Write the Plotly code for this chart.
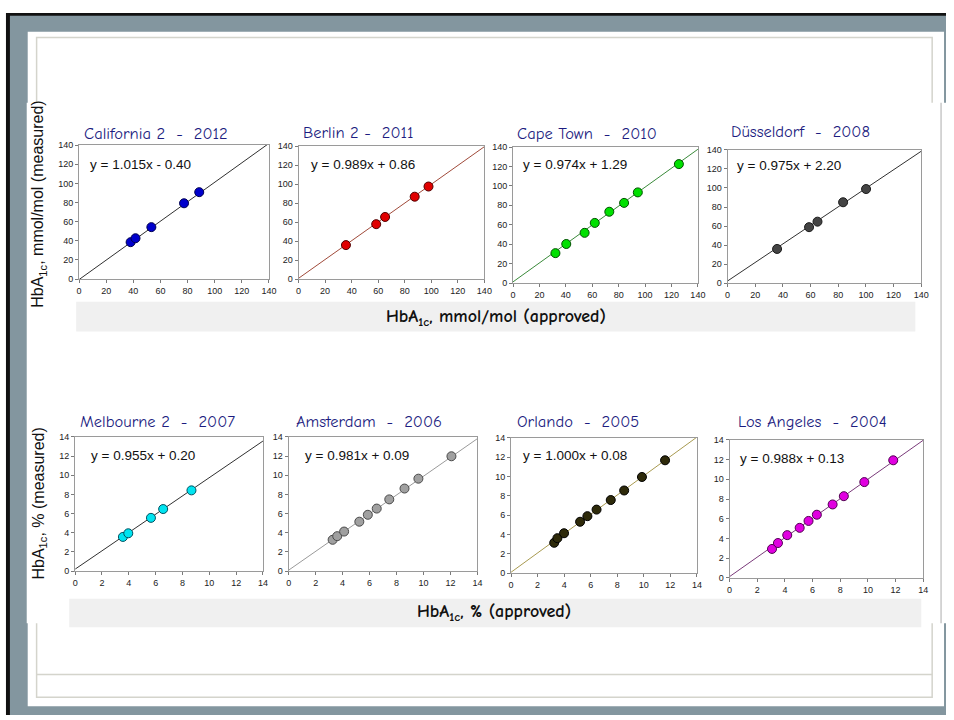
import plotly.graph_objects as go

W, H = 954, 720

# ---- data ---------------------------------------------------------------
panel_titles = [
    "California 2  -  2012", "Berlin 2 -  2011", "Cape Town  -  2010", "Düsseldorf  -  2008",
    "Melbourne 2  -  2007", "Amsterdam  -  2006", "Orlando  -  2005", "Los Angeles  -  2004",
]
slopes = [1.015, 0.989, 0.974, 0.975, 0.955, 0.981, 1.000, 0.988]
intercepts = [-0.40, 0.86, 1.29, 2.20, 0.20, 0.09, 0.08, 0.13]

approved = [
    [38.0, 41.6, 53.3, 77.4, 88.6],
    [35.7, 58.5, 65.2, 87.5, 97.9],
    [32.1, 40.3, 54.2, 61.9, 72.9, 84.1, 94.5, 125.6],
    [35.8, 58.9, 65.0, 83.5, 100.1],
    [3.56, 3.96, 5.65, 6.56, 8.67],
    [3.26, 3.60, 4.11, 5.24, 5.87, 6.53, 7.46, 8.59, 9.62, 12.07],
    [3.25, 3.49, 3.99, 5.20, 5.75, 6.44, 7.51, 8.52, 9.86, 11.60],
    [3.07, 3.50, 4.17, 5.07, 5.71, 6.31, 7.45, 8.26, 9.74, 11.83],
]
measured = [
    [38.6, 42.7, 54.3, 79.2, 90.8],
    [35.8, 57.8, 65.4, 86.7, 97.4],
    [30.8, 40.2, 51.7, 61.9, 73.4, 82.5, 93.3, 122.4],
    [35.9, 58.8, 64.6, 85.0, 98.9],
    [3.56, 3.94, 5.55, 6.47, 8.42],
    [3.26, 3.64, 4.12, 5.15, 5.87, 6.52, 7.48, 8.61, 9.64, 11.98],
    [3.13, 3.61, 4.12, 5.31, 5.89, 6.57, 7.56, 8.55, 9.95, 11.68],
    [2.94, 3.54, 4.34, 5.08, 5.78, 6.41, 7.45, 8.29, 9.72, 11.93],
]
axis_max = [140, 140, 140, 140, 14, 14, 14, 14]
axis_step = [20, 20, 20, 20, 2, 2, 2, 2]

y_titles = ["HbA<sub>1c</sub>, mmol/mol (measured)", "HbA<sub>1c</sub>, % (measured)"]
x_titles = ["<b>HbA<sub>1c</sub>, mmol/mol (approved)</b>", "<b>HbA<sub>1c</sub>, % (approved)</b>"]

# ---- styling ------------------------------------------------------------
marker_fill = ["#0000cc", "#e00000", "#00e000", "#444444",
               "#00e4f0", "#a0a0a0", "#2e2a0a", "#e000e0"]
marker_edge = ["#000050", "#500000", "#005000", "#1a1a1a",
               "#005060", "#4a4a4a", "#000000", "#500050"]
line_colors = ["#303030", "#a04a3a", "#3a8a3a", "#303030",
               "#303030", "#9a9a9a", "#a89a50", "#7a3a7a"]

# plot-area boxes in pixels: left, top, right, bottom
boxes = [
    (77, 142, 269, 278), (299, 143, 487, 278), (516, 144, 703, 282), (733, 147, 929, 282),
    (73, 438, 263, 574), (289, 438, 480, 574), (514, 439, 702, 576), (735, 441, 931, 581),
]
title_pos = [(155, 130), (360, 129), (591, 130), (807, 128),
             (156, 422), (370, 422), (582, 422), (819, 422)]
eq_pos = [(86, 162), (310, 162), (524, 162), (741, 163),
          (87, 457), (303, 457), (524, 457), (744, 460)]

TITLE_FONT = "Comic Sans MS, Comic Neue, Open Sans, sans-serif"
TEXT_FONT = "Arial, Liberation Sans, sans-serif"


def px(x):
    return x / W


def py(y):
    return 1 - y / H


fig = go.Figure()
shapes = []
annotations = []

# slide background: black rim, textured grey-blue, white page, frame
shapes.append(dict(type="rect", xref="paper", yref="paper", x0=px(3), x1=1, y0=0, y1=py(8),
                   fillcolor="#111111", line_width=0, layer="below"))
shapes.append(dict(type="rect", xref="paper", yref="paper", x0=px(7), x1=1, y0=0, y1=py(11),
                   fillcolor="#83969f", line_width=0, layer="below"))
shapes.append(dict(type="rect", xref="paper", yref="paper", x0=px(25), x1=px(952), y0=py(711), y1=py(27),
                   fillcolor="white", line_width=0, layer="below"))
shapes.append(dict(type="rect", xref="paper", yref="paper", x0=px(34), x1=px(940), y0=py(702), y1=py(33),
                   fillcolor="white", line=dict(color="#d4d4cc", width=1.5), layer="below"))
shapes.append(dict(type="line", xref="paper", yref="paper", x0=px(34), x1=px(940), y0=py(679), y1=py(679),
                   line=dict(color="#d4d4cc", width=1.5), layer="below"))
# pasted chart panel
shapes.append(dict(type="rect", xref="paper", yref="paper", x0=px(24), x1=1, y0=py(627), y1=py(99),
                   fillcolor="white", line_width=0, layer="below"))
shapes.append(dict(type="line", xref="paper", yref="paper", x0=px(949), x1=px(949), y0=py(627), y1=py(99),
                   line=dict(color="#c8c8c8", width=1.5), layer="below"))
# grey x-title bands
shapes.append(dict(type="rect", xref="paper", yref="paper", x0=px(74), x1=px(923), y0=py(331), y1=py(301),
                   fillcolor="#f0f0f0", line_width=0, layer="below"))
shapes.append(dict(type="rect", xref="paper", yref="paper", x0=px(67), x1=px(929), y0=py(631), y1=py(602),
                   fillcolor="#f0f0f0", line_width=0, layer="below"))

for i in range(8):
    n = i + 1
    xa = "x" if n == 1 else f"x{n}"
    ya = "y" if n == 1 else f"y{n}"
    l, t, r, b = boxes[i]
    m = axis_max[i]

    # regression line over the full axis span
    fig.add_trace(go.Scatter(
        x=[0, m], y=[intercepts[i], slopes[i] * m + intercepts[i]],
        mode="lines", line=dict(color=line_colors[i], width=1),
        xaxis=xa, yaxis=ya, showlegend=False, hoverinfo="skip"))
    fig.add_trace(go.Scatter(
        x=approved[i], y=measured[i], mode="markers",
        marker=dict(size=9, color=marker_fill[i], line=dict(color=marker_edge[i], width=1)),
        xaxis=xa, yaxis=ya, showlegend=False, cliponaxis=False))

    axis_common = dict(
        range=[0, m], dtick=axis_step[i], tick0=0, showgrid=False, zeroline=False,
        showline=True, linecolor="#9a9a9a", linewidth=1, mirror=True,
        ticks="outside", ticklen=3, tickcolor="#7a7a7a", tickwidth=1,
        tickfont=dict(family=TEXT_FONT, size=9, color="#222222"),
    )
    fig.layout[f"xaxis{'' if n == 1 else n}"] = dict(
        domain=[px(l), px(r)], anchor=ya, **axis_common)
    fig.layout[f"yaxis{'' if n == 1 else n}"] = dict(
        domain=[py(b), py(t)], anchor=xa, **axis_common)

    tx, ty = title_pos[i]
    annotations.append(dict(
        text=panel_titles[i], xref="paper", yref="paper", x=px(tx), y=py(ty),
        xanchor="center", yanchor="middle", showarrow=False,
        font=dict(family=TITLE_FONT, size=16.5, color="#1c1c80")))
    ex, ey = eq_pos[i]
    sign = "-" if intercepts[i] < 0 else "+"
    eq = f"y = {slopes[i]:.3f}x {sign} {abs(intercepts[i]):.2f}"
    annotations.append(dict(
        text=eq, xref="paper", yref="paper", x=px(ex), y=py(ey),
        xanchor="left", yanchor="middle", showarrow=False,
        font=dict(family=TEXT_FONT, size=13.5, color="#111111")))

# shared axis titles
annotations.append(dict(text=y_titles[0], xref="paper", yref="paper", x=px(36), y=py(202),
                        textangle=-90, showarrow=False, xanchor="center", yanchor="middle",
                        font=dict(family=TEXT_FONT, size=16, color="#111111")))
annotations.append(dict(text=y_titles[1], xref="paper", yref="paper", x=px(37), y=py(506),
                        textangle=-90, showarrow=False, xanchor="center", yanchor="middle",
                        font=dict(family=TEXT_FONT, size=16, color="#111111")))
annotations.append(dict(text=x_titles[0], xref="paper", yref="paper", x=px(499), y=py(317),
                        showarrow=False, xanchor="center", yanchor="middle",
                        font=dict(family=TITLE_FONT, size=18, color="#111111")))
annotations.append(dict(text=x_titles[1], xref="paper", yref="paper", x=px(497), y=py(616),
                        showarrow=False, xanchor="center", yanchor="middle",
                        font=dict(family=TITLE_FONT, size=18, color="#111111")))

fig.update_layout(
    width=W, height=H, margin=dict(l=0, r=0, t=0, b=0),
    paper_bgcolor="white", plot_bgcolor="white",
    shapes=shapes, annotations=annotations,
)

fig.write_html("out.html")
